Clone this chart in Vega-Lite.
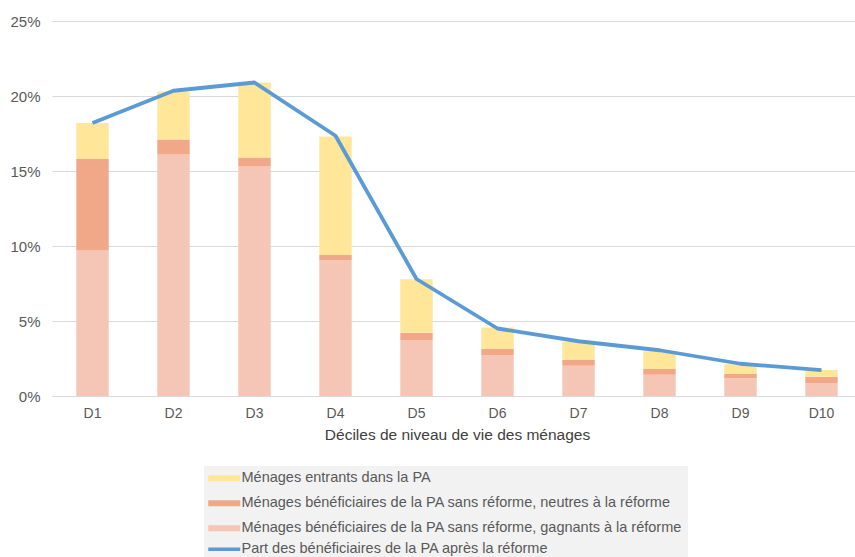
{
  "$schema": "https://vega.github.io/schema/vega-lite/v6.json",
  "autosize": "none",
  "width": 810,
  "height": 375,
  "padding": {"left": 52, "top": 21, "right": 0, "bottom": 161},
  "background": "white",
  "config": {
    "font": "Liberation Sans",
    "view": {"stroke": null}
  },
  "datasets": {
    "barres": [
      {"decile": "D1", "serie": "Ménages bénéficiaires de la PA sans réforme, gagnants à la réforme", "valeur": 9.7},
      {"decile": "D1", "serie": "Ménages bénéficiaires de la PA sans réforme, neutres à la réforme", "valeur": 6.1},
      {"decile": "D1", "serie": "Ménages entrants dans la PA", "valeur": 2.4},
      {"decile": "D2", "serie": "Ménages bénéficiaires de la PA sans réforme, gagnants à la réforme", "valeur": 16.1},
      {"decile": "D2", "serie": "Ménages bénéficiaires de la PA sans réforme, neutres à la réforme", "valeur": 1.0},
      {"decile": "D2", "serie": "Ménages entrants dans la PA", "valeur": 3.2},
      {"decile": "D3", "serie": "Ménages bénéficiaires de la PA sans réforme, gagnants à la réforme", "valeur": 15.3},
      {"decile": "D3", "serie": "Ménages bénéficiaires de la PA sans réforme, neutres à la réforme", "valeur": 0.6},
      {"decile": "D3", "serie": "Ménages entrants dans la PA", "valeur": 5.0},
      {"decile": "D4", "serie": "Ménages bénéficiaires de la PA sans réforme, gagnants à la réforme", "valeur": 9.05},
      {"decile": "D4", "serie": "Ménages bénéficiaires de la PA sans réforme, neutres à la réforme", "valeur": 0.35},
      {"decile": "D4", "serie": "Ménages entrants dans la PA", "valeur": 7.9},
      {"decile": "D5", "serie": "Ménages bénéficiaires de la PA sans réforme, gagnants à la réforme", "valeur": 3.73},
      {"decile": "D5", "serie": "Ménages bénéficiaires de la PA sans réforme, neutres à la réforme", "valeur": 0.49},
      {"decile": "D5", "serie": "Ménages entrants dans la PA", "valeur": 3.56},
      {"decile": "D6", "serie": "Ménages bénéficiaires de la PA sans réforme, gagnants à la réforme", "valeur": 2.73},
      {"decile": "D6", "serie": "Ménages bénéficiaires de la PA sans réforme, neutres à la réforme", "valeur": 0.4},
      {"decile": "D6", "serie": "Ménages entrants dans la PA", "valeur": 1.43},
      {"decile": "D7", "serie": "Ménages bénéficiaires de la PA sans réforme, gagnants à la réforme", "valeur": 2.02},
      {"decile": "D7", "serie": "Ménages bénéficiaires de la PA sans réforme, neutres à la réforme", "valeur": 0.4},
      {"decile": "D7", "serie": "Ménages entrants dans la PA", "valeur": 1.2},
      {"decile": "D8", "serie": "Ménages bénéficiaires de la PA sans réforme, gagnants à la réforme", "valeur": 1.42},
      {"decile": "D8", "serie": "Ménages bénéficiaires de la PA sans réforme, neutres à la réforme", "valeur": 0.38},
      {"decile": "D8", "serie": "Ménages entrants dans la PA", "valeur": 1.18},
      {"decile": "D9", "serie": "Ménages bénéficiaires de la PA sans réforme, gagnants à la réforme", "valeur": 1.18},
      {"decile": "D9", "serie": "Ménages bénéficiaires de la PA sans réforme, neutres à la réforme", "valeur": 0.29},
      {"decile": "D9", "serie": "Ménages entrants dans la PA", "valeur": 0.64},
      {"decile": "D10", "serie": "Ménages bénéficiaires de la PA sans réforme, gagnants à la réforme", "valeur": 0.87},
      {"decile": "D10", "serie": "Ménages bénéficiaires de la PA sans réforme, neutres à la réforme", "valeur": 0.42},
      {"decile": "D10", "serie": "Ménages entrants dans la PA", "valeur": 0.44}
    ],
    "ligne": [
      {"decile": "D1", "serie": "Part des bénéficiaires de la PA après la réforme", "valeur": 18.2},
      {"decile": "D2", "serie": "Part des bénéficiaires de la PA après la réforme", "valeur": 20.35},
      {"decile": "D3", "serie": "Part des bénéficiaires de la PA après la réforme", "valeur": 20.9},
      {"decile": "D4", "serie": "Part des bénéficiaires de la PA après la réforme", "valeur": 17.35},
      {"decile": "D5", "serie": "Part des bénéficiaires de la PA après la réforme", "valeur": 7.8},
      {"decile": "D6", "serie": "Part des bénéficiaires de la PA après la réforme", "valeur": 4.5},
      {"decile": "D7", "serie": "Part des bénéficiaires de la PA après la réforme", "valeur": 3.65},
      {"decile": "D8", "serie": "Part des bénéficiaires de la PA après la réforme", "valeur": 3.05},
      {"decile": "D9", "serie": "Part des bénéficiaires de la PA après la réforme", "valeur": 2.15},
      {"decile": "D10", "serie": "Part des bénéficiaires de la PA après la réforme", "valeur": 1.72}
    ]
  },
  "encoding": {
    "x": {
      "field": "decile",
      "type": "nominal",
      "sort": ["D1", "D2", "D3", "D4", "D5", "D6", "D7", "D8", "D9", "D10"],
      "scale": {"paddingInner": 0.6, "paddingOuter": 0.3},
      "axis": {
        "title": "Déciles de niveau de vie des ménages",
        "titleFont": "Liberation Sans",
        "titleFontSize": 15.5,
        "titleFontWeight": "normal",
        "titleColor": "#404040",
        "titlePadding": 7,
        "labelAngle": 0,
        "labelFontSize": 14,
        "labelColor": "#595959",
        "labelPadding": 10,
        "ticks": false,
        "domainColor": "#d9d9d9",
        "domainWidth": 1
      }
    },
    "y": {
      "field": "valeur",
      "type": "quantitative",
      "scale": {"domain": [0, 25]},
      "axis": {
        "title": null,
        "values": [0, 5, 10, 15, 20, 25],
        "labelExpr": "datum.value + '%'",
        "labelFontSize": 15,
        "labelColor": "#595959",
        "labelPadding": 12,
        "ticks": false,
        "domain": false,
        "gridColor": "#d9d9d9",
        "gridWidth": 1
      }
    }
  },
  "layer": [
    {
      "data": {"name": "barres"},
      "transform": [
        {"calculate": "indexof(['Ménages bénéficiaires de la PA sans réforme, gagnants à la réforme', 'Ménages bénéficiaires de la PA sans réforme, neutres à la réforme', 'Ménages entrants dans la PA'], datum.serie)", "as": "ordre"}
      ],
      "mark": {"type": "bar"},
      "encoding": {
        "color": {"field": "serie", "type": "nominal"},
        "order": {"field": "ordre", "type": "quantitative"}
      }
    },
    {
      "data": {"name": "ligne"},
      "mark": {"type": "line", "strokeWidth": 3.8, "strokeJoin": "round"},
      "encoding": {
        "color": {
          "field": "serie",
          "type": "nominal",
          "scale": {
            "domain": [
              "Ménages entrants dans la PA",
              "Ménages bénéficiaires de la PA sans réforme, neutres à la réforme",
              "Ménages bénéficiaires de la PA sans réforme, gagnants à la réforme",
              "Part des bénéficiaires de la PA après la réforme"
            ],
            "range": ["#FFE699", "#F0A888", "#F5C6B5", "#5B9BD5"]
          },
          "legend": {
            "title": null,
            "orient": "none",
            "legendX": 152,
            "legendY": 445,
            "fillColor": "#F2F2F2",
            "padding": 5,
            "labelFontSize": 14.5,
            "labelColor": "#595959",
            "labelOffset": 10,
            "rowPadding": 0,
            "symbolType": "M-2,0H2",
            "symbolSize": 256,
            "symbolOffset": 8,
            "symbolStrokeWidth": 6,
            "labelLimit": 600,
            "encode": {
              "symbols": {
                "update": {
                  "fill": {"value": "transparent"},
                  "stroke": {"scale": "color", "field": "value"},
                  "strokeWidth": {"signal": "datum.value === 'Part des bénéficiaires de la PA après la réforme' ? 3.3 : 6"},
                  "opacity": {"value": 1}
                }
              }
            }
          }
        }
      }
    }
  ]
}
